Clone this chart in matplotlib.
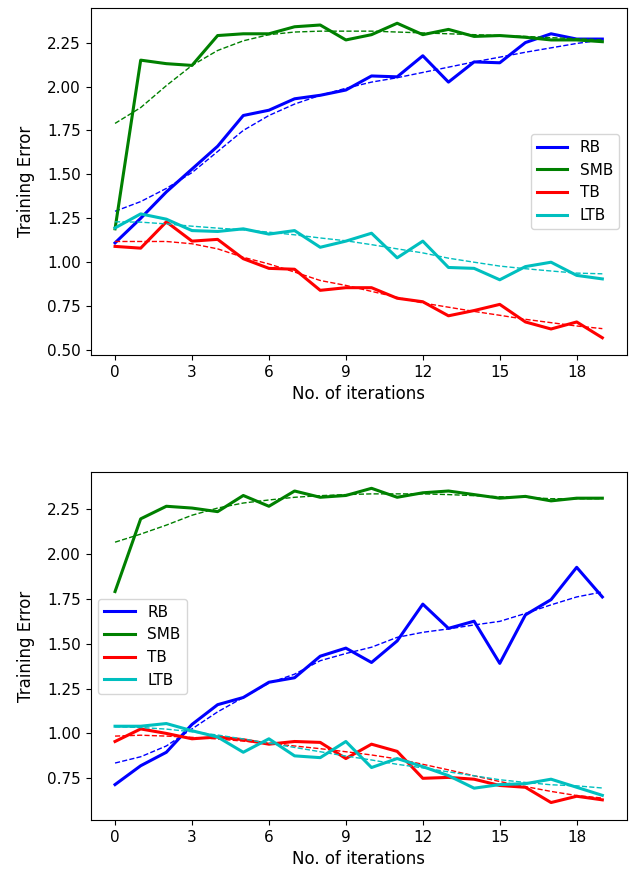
import matplotlib
matplotlib.use("Agg")
import matplotlib.pyplot as plt

iters = list(range(20))

# top panel
rb1 = [1.11, 1.25, 1.40, 1.53, 1.66, 1.835, 1.865, 1.93, 1.95, 1.98,
       2.06, 2.055, 2.175, 2.025, 2.14, 2.135, 2.25, 2.30, 2.27, 2.27]
smb1 = [1.19, 2.15, 2.13, 2.12, 2.29, 2.30, 2.30, 2.34, 2.35, 2.265,
        2.295, 2.36, 2.295, 2.325, 2.285, 2.29, 2.28, 2.265, 2.265, 2.255]
tb1 = [1.09, 1.08, 1.23, 1.12, 1.13, 1.02, 0.965, 0.96, 0.84, 0.855,
       0.855, 0.795, 0.775, 0.695, 0.725, 0.76, 0.66, 0.62, 0.66, 0.57]
ltb1 = [1.195, 1.275, 1.245, 1.18, 1.175, 1.19, 1.16, 1.18, 1.085, 1.12,
        1.165, 1.025, 1.12, 0.97, 0.965, 0.90, 0.975, 1.0, 0.925, 0.905]

rb1_fit = [1.29, 1.345, 1.42, 1.51, 1.63, 1.75, 1.835, 1.90, 1.95, 1.99,
           2.025, 2.05, 2.08, 2.11, 2.14, 2.167, 2.195, 2.22, 2.245, 2.265]
smb1_fit = [1.79, 1.88, 2.005, 2.12, 2.205, 2.26, 2.295, 2.31, 2.315, 2.315,
            2.315, 2.31, 2.305, 2.30, 2.295, 2.29, 2.285, 2.278, 2.272, 2.265]
tb1_fit = [1.118, 1.118, 1.118, 1.105, 1.076, 1.028, 0.99, 0.944, 0.896, 0.868,
           0.834, 0.80, 0.768, 0.744, 0.72, 0.698, 0.675, 0.656, 0.637, 0.622]
ltb1_fit = [1.23, 1.228, 1.218, 1.205, 1.194, 1.184, 1.171, 1.156, 1.138, 1.122,
            1.10, 1.076, 1.053, 1.023, 1.0, 0.978, 0.963, 0.95, 0.938, 0.934]

# bottom panel
rb2 = [0.715, 0.82, 0.895, 1.05, 1.16, 1.20, 1.285, 1.31, 1.43, 1.475,
       1.395, 1.515, 1.72, 1.585, 1.625, 1.39, 1.66, 1.745, 1.925, 1.76]
smb2 = [1.79, 2.195, 2.265, 2.255, 2.235, 2.325, 2.265, 2.35, 2.315, 2.325,
        2.365, 2.315, 2.34, 2.35, 2.33, 2.31, 2.32, 2.295, 2.31, 2.31]
tb2 = [0.955, 1.025, 1.0, 0.97, 0.98, 0.965, 0.94, 0.955, 0.95, 0.86,
       0.94, 0.90, 0.75, 0.755, 0.745, 0.71, 0.70, 0.615, 0.65, 0.63]
ltb2 = [1.04, 1.04, 1.055, 1.015, 0.98, 0.895, 0.97, 0.875, 0.865, 0.955,
        0.81, 0.86, 0.815, 0.765, 0.695, 0.715, 0.72, 0.745, 0.70, 0.655]

rb2_fit = [0.835, 0.87, 0.93, 1.025, 1.12, 1.20, 1.28, 1.33, 1.405, 1.445,
           1.48, 1.535, 1.563, 1.582, 1.604, 1.624, 1.668, 1.716, 1.76, 1.788]
smb2_fit = [2.065, 2.11, 2.16, 2.215, 2.255, 2.283, 2.30, 2.315, 2.324, 2.33,
            2.334, 2.334, 2.334, 2.33, 2.324, 2.318, 2.315, 2.307, 2.307, 2.307]
tb2_fit = [0.985, 0.99, 0.985, 0.978, 0.969, 0.957, 0.945, 0.93, 0.915, 0.898,
           0.88, 0.858, 0.828, 0.797, 0.764, 0.732, 0.704, 0.677, 0.654, 0.64]
ltb2_fit = [1.037, 1.033, 1.024, 1.009, 0.991, 0.969, 0.945, 0.922, 0.898, 0.874,
            0.852, 0.828, 0.808, 0.786, 0.764, 0.742, 0.727, 0.714, 0.708, 0.696]

names = ["RB", "SMB", "TB", "LTB"]
colors = ["b", "g", "r", "c"]
xticks = [0, 3, 6, 9, 12, 15, 18]

fig = plt.figure(figsize=(6.31, 8.75), dpi=100)
ax1 = fig.add_axes([0.1437, 0.5943, 0.8495, 0.3962])
ax2 = fig.add_axes([0.1437, 0.0629, 0.8495, 0.3973])


def panel(ax, series, fits, yticks, ylim, loc):
    for y, fit, name, c in zip(series, fits, names, colors):
        ax.plot(iters, y, color=c, lw=2.2, label=name)
        ax.plot(iters, fit, color=c, lw=1.0, ls="--")
    ax.set_xlim(-0.95, 19.95)
    ax.set_ylim(*ylim)
    ax.set_xticks(xticks)
    ax.set_yticks(yticks)
    ax.tick_params(labelsize=11)
    ax.set_xlabel("No. of iterations", fontsize=12)
    ax.set_ylabel("Training Error", fontsize=12, labelpad=9)
    ax.legend(loc=loc, fontsize=11)


panel(ax1, [rb1, smb1, tb1, ltb1], [rb1_fit, smb1_fit, tb1_fit, ltb1_fit],
      [0.5, 0.75, 1.0, 1.25, 1.5, 1.75, 2.0, 2.25], (0.472, 2.445), "center right")
panel(ax2, [rb2, smb2, tb2, ltb2], [rb2_fit, smb2_fit, tb2_fit, ltb2_fit],
      [0.75, 1.0, 1.25, 1.5, 1.75, 2.0, 2.25], (0.518, 2.454), "center left")

fig.savefig("out.png", dpi=100)
